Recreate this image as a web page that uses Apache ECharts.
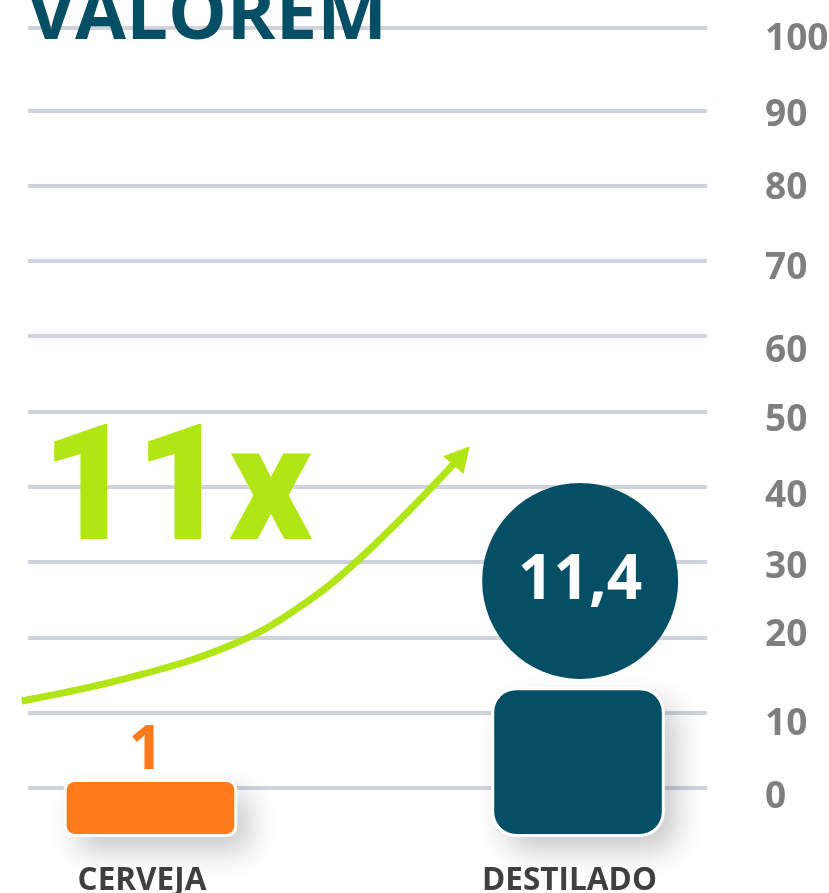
<!DOCTYPE html>
<html>
<head>
<meta charset="utf-8">
<style>html,body{margin:0;padding:0;background:#fff;overflow:hidden}#c{width:829px;height:893px}</style>
<script src="https://cdn.jsdelivr.net/npm/echarts@6/dist/echarts.min.js"></script>
</head>
<body>
<div id="c"></div>
<script>
// Data
const categories = ['CERVEJA', 'DESTILADO'];
const barLabels = ['1', '11,4'];
const barTops = [0.8, 13];
const barBase = -6.1;
const tickLabels = ['0', '10', '20', '30', '40', '50', '60', '70', '80', '90', '100'];
const tickLabelValues = [-1.3, 8.5, 20.2, 29.3, 38.7, 48.8, 58.0, 69.0, 79.6, 89.3, 99.4];
const gridValues = [0, 10, 20, 30, 40, 50, 60, 70, 80, 90, 100.9];
const bubble = [1.005, 27.5];
const orangeLabelAt = [-0.0105, 4.85];
const arrowX = [-0.301, -0.041, 0.193, 0.350, 0.507, 0.7275];
const arrowY = [11.55, 14.78, 19.1, 24.08, 31.39, 44.14];

const DARK = '#054F66', ORANGE = '#FF7A1B', GREEN = '#B2E516';
const FONT = '"Open Sans", sans-serif';
const radii = [8, 22];
const colors = [ORANGE, DARK];

const chart = echarts.init(document.getElementById('c'), null, {renderer: 'canvas'});

const arrowData = arrowX.map((x, i) => {
  const last = i === arrowX.length - 1;
  return {
    value: [x, arrowY[i]],
    symbol: last ? 'triangle' : 'none',
    symbolSize: last ? [27, 25] : 0,
    symbolRotate: last ? -41 : 0,
    itemStyle: {color: GREEN}
  };
});

chart.setOption({
  animation: false,
  backgroundColor: '#fff',
  title: {
    text: 'VALOREM', left: 27, top: -19, padding: 0,
    textStyle: {fontFamily: FONT, fontWeight: 'bold', fontSize: 74, color: DARK}
  },
  grid: [
    {left: 28, right: 122, top: 0, bottom: 0, outerBoundsMode: 'none'},
    {left: -63.25, width: 855, top: 0, height: 864, outerBoundsMode: 'none'}
  ],
  xAxis: [
    {gridIndex: 0, type: 'value', min: 0, max: 1, show: false},
    {gridIndex: 1, type: 'category', data: categories,
     axisLine: {show: false}, axisTick: {show: false},
     axisLabel: {fontFamily: FONT, fontWeight: 'bold', fontSize: 31.5, color: '#404040',
                 margin: 1, padding: [0, 17, 0, 0], interval: 0}},
    {gridIndex: 1, type: 'value', min: -0.5, max: 1.5, show: false}
  ],
  yAxis: [
    {gridIndex: 0, type: 'value', position: 'right', min: -13.94, max: 104.65,
     axisLine: {show: false},
     axisTick: {show: false, customValues: gridValues},
     splitLine: {show: true, lineStyle: {color: '#D0D3DC', width: 4}},
     axisLabel: {customValues: tickLabelValues, margin: 58, align: 'left',
                 fontFamily: FONT, fontWeight: 'bold', fontSize: 37, color: '#7F7F7F',
                 showMinLabel: true, showMaxLabel: true, hideOverlap: false,
                 formatter: (v, i) => tickLabels[tickLabelValues.indexOf(v)]}},
    {gridIndex: 1, type: 'value', min: -10.09, max: 104.65, show: false}
  ],
  series: [
    {
      type: 'custom', xAxisIndex: 1, yAxisIndex: 1, z: 3, clip: false,
      data: categories.map((c, i) => [i, barTops[i], barBase]),
      renderItem(params, api) {
        const i = api.value(0);
        const top = api.coord([i, api.value(1)]);
        const bot = api.coord([i, api.value(2)]);
        const w = api.size([1, 0])[0] * 0.392;
        const h = bot[1] - top[1];
        return {
          type: 'group',
          children: [
            {type: 'rect',
             shape: {x: top[0] - w / 2 - 3, y: top[1] - 3, width: w + 6, height: h + 6, r: radii[i] + 3},
             style: {fill: '#fff', shadowBlur: 28, shadowColor: 'rgba(0,0,0,0.2)', shadowOffsetX: 13, shadowOffsetY: 15}},
            {type: 'rect',
             shape: {x: top[0] - w / 2, y: top[1], width: w, height: h, r: radii[i]},
             style: {fill: colors[i]}}
          ]
        };
      }
    },
    {
      type: 'scatter', xAxisIndex: 2, yAxisIndex: 1, z: 4, clip: false,
      data: [bubble], symbol: 'circle', symbolSize: 196,
      itemStyle: {color: DARK, opacity: 1},
      label: {show: true, position: 'inside', formatter: barLabels[1],
              fontFamily: FONT, fontWeight: 'bold', fontSize: 62, color: '#fff'}
    },
    {
      type: 'scatter', xAxisIndex: 2, yAxisIndex: 1, z: 4, clip: false,
      data: [orangeLabelAt], symbol: 'circle', symbolSize: 1,
      itemStyle: {color: 'rgba(0,0,0,0)', opacity: 1},
      label: {show: true, position: 'inside', formatter: barLabels[0],
              fontFamily: FONT, fontWeight: 'bold', fontSize: 60, color: ORANGE}
    },
    {
      type: 'line', xAxisIndex: 2, yAxisIndex: 1, z: 5, clip: false, smooth: 0.4,
      data: arrowData, showSymbol: true,
      lineStyle: {color: GREEN, width: 7, cap: 'butt'}
    }
  ],
  graphic: [{
    type: 'text', left: 41, top: 417, z: 10,
    style: {text: '11x', font: '900 162px Roboto, sans-serif', fill: GREEN}
  }]
});
</script>
</body>
</html>
